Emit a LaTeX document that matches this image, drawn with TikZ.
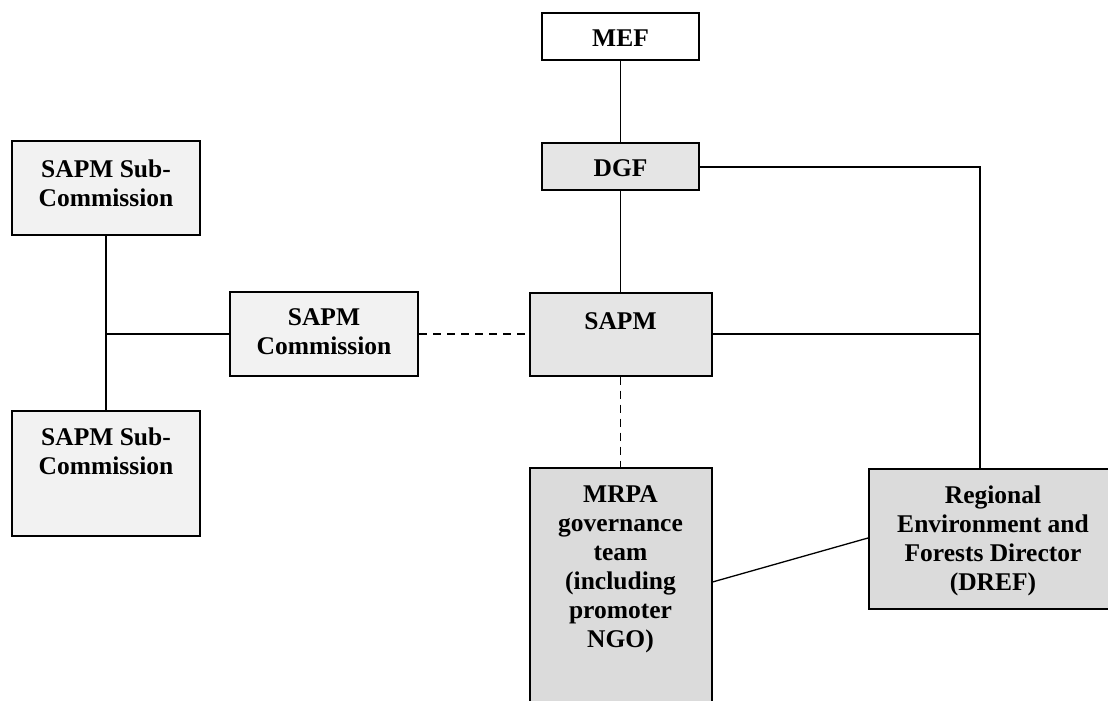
\documentclass[tikz,border=0pt]{standalone}
\usepackage{fontspec}
\setmainfont{Liberation Serif}
\begin{document}
\begin{tikzpicture}[x=1pt,y=-1pt,
  box/.style={draw=black, line width=2pt, inner sep=0pt, rectangle},
  lite/.style={box, fill=gray!10},
  mid/.style={box, fill=gray!20},
  dark/.style={box, fill=gray!28},
  plain/.style={box, fill=white},
  txt/.style={font=\bfseries\fontsize{25.5}{29}\selectfont, align=center, inner sep=0pt, anchor=north},
  link/.style={line width=1.3pt},
  dlink/.style={line width=1.3pt, dash pattern=on 8pt off 6pt}]
\useasboundingbox (0,0) rectangle (1108,701);
\clip (0,0) rectangle (1108,701);

% boxes
\node[plain, minimum width=157pt, minimum height=47pt] (MEF) at (620.5,36.5) {};
\node[mid, minimum width=157pt, minimum height=47pt] (DGF) at (620.5,166.5) {};
\node[mid, minimum width=182pt, minimum height=83pt] (SAPM) at (620.5,334) {};
\node[lite, minimum width=188pt, minimum height=84pt] (SAPMC) at (324,334) {};
\node[lite, minimum width=188pt, minimum height=94pt] (sub1) at (106,188) {};
\node[lite, minimum width=188pt, minimum height=125pt] (sub2) at (106,473.5) {};
\node[dark, minimum width=182pt, minimum height=252pt] (MRPA) at (620.5,594) {};
\node[dark, minimum width=251pt, minimum height=140pt] (DREF) at (994.5,539) {};

% texts
\node[txt] (tMEF) at (620.5,30) {MEF};
\node[txt] (tDGF) at (620.5,159) {DGF};
\node[txt] (tSAPM) at (620.5,312) {SAPM};
\node[txt] (tSAPMC) at (324,308) {SAPM\\Commission};
\node[txt] (tsub1) at (106,160) {SAPM Sub-\\Commission};
\node[txt] (tsub2) at (106,428) {SAPM Sub-\\Commission};
\node[txt] (tMRPA) at (620.5,485) {MRPA\\governance\\team\\(including\\promoter\\NGO)};
\node[txt] (tDREF) at (993,486) {Regional\\Environment and\\Forests Director\\(DREF)};

% connectors
\coordinate (rt) at (980,167);
\coordinate (junc) at (106,334);
\draw[link] (MEF) -- (DGF);
\draw[link] (DGF) -- (SAPM);
\draw[link] (DGF.east |- rt) -- (rt) -- (rt |- DREF.north);
\draw[link] (SAPM.east) -- (rt |- SAPM.east);
\draw[dlink] (SAPMC.east) -- (SAPM.west);
\draw[dlink] (SAPM.south) -- (MRPA.north);
\draw[link] (sub1.south) -- (sub2.north);
\draw[link] (junc) -- (SAPMC.west);
\draw[link] ([yshift=-115pt]MRPA.north east) -- ([yshift=-70pt]DREF.north west);
\end{tikzpicture}
\end{document}
